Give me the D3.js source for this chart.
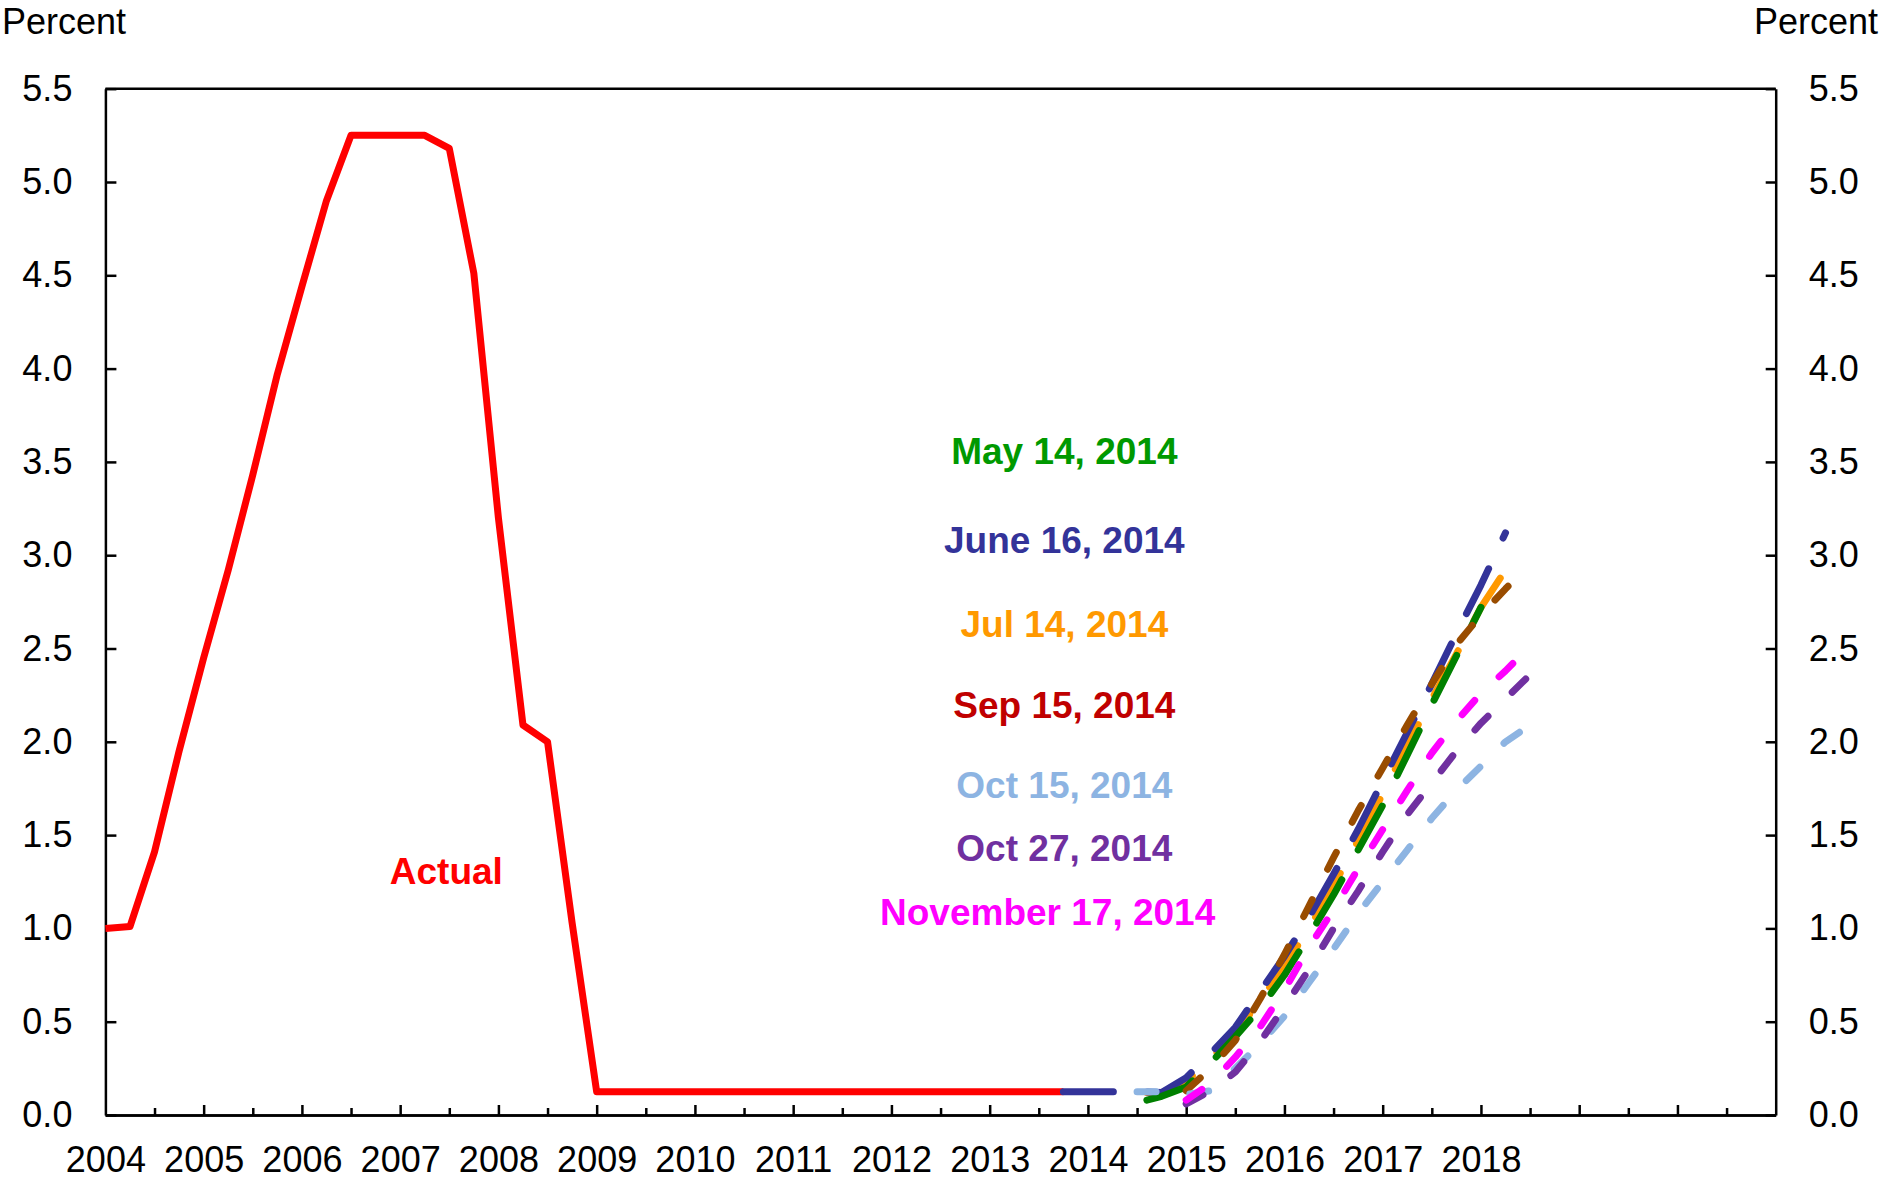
<!DOCTYPE html>
<html>
<head>
<meta charset="utf-8">
<script src="https://cdn.jsdelivr.net/npm/d3@7"></script>
<style>
  body { margin: 0; background: #fff; }
  svg { display: block; font-family: "Liberation Sans", Arial, sans-serif; }
</style>
</head>
<body>
<svg id="chart" width="1883" height="1181"></svg>
<script>
/* Fed funds target: actual path and market-implied paths (2014 vintages) */

// Axis ticks
const yearLabels = [2004, 2005, 2006, 2007, 2008, 2009, 2010, 2011, 2012, 2013, 2014, 2015, 2016, 2017, 2018];
const yTicks = [0, 0.5, 1, 1.5, 2, 2.5, 3, 3.5, 4, 4.5, 5, 5.5];

// Actual (quarterly)
const actualDates = [2004, 2004.25, 2004.5, 2004.75, 2005, 2005.25, 2005.5, 2005.75,
  2006, 2006.25, 2006.5, 2006.75, 2007, 2007.25, 2007.5, 2007.75,
  2008, 2008.25, 2008.5, 2008.75, 2009, 2009.25, 2009.5, 2009.75,
  2010, 2010.25, 2010.5, 2010.75, 2011, 2011.25, 2011.5, 2011.75,
  2012, 2012.25, 2012.5, 2012.75, 2013, 2013.25, 2013.5, 2013.75];
const actualValues = [1.0, 1.01, 1.41, 1.95, 2.45, 2.92, 3.43, 3.97,
  4.44, 4.9, 5.25, 5.25, 5.25, 5.25, 5.18, 4.51,
  3.2, 2.09, 2.0, 1.03, 0.125, 0.125, 0.125, 0.125,
  0.125, 0.125, 0.125, 0.125, 0.125, 0.125, 0.125, 0.125,
  0.125, 0.125, 0.125, 0.125, 0.125, 0.125, 0.125, 0.125];

// Projections
const juneDates = [2013.75, 2014, 2014.25, 2014.5, 2014.75, 2015, 2015.25, 2015.5, 2015.75,
  2016, 2016.25, 2016.5, 2016.75, 2017, 2017.25, 2017.5, 2017.75, 2018, 2018.25];
const juneValues = [0.125, 0.125, 0.125, 0.125, 0.12, 0.2, 0.33, 0.47, 0.66,
  0.85, 1.06, 1.29, 1.53, 1.79, 2.05, 2.31, 2.58, 2.84, 3.12];

const julDates = [2014.6, 2014.75, 2015, 2015.25, 2015.5, 2015.75, 2016, 2016.25, 2016.5, 2016.75,
  2017, 2017.25, 2017.5, 2017.75, 2018, 2018.25];
const julValues = [0.12, 0.12, 0.18, 0.3, 0.44, 0.61, 0.8, 1.0, 1.23, 1.47,
  1.72, 1.98, 2.23, 2.47, 2.72, 2.92];

const mayDates = [2014.6, 2014.75, 2015, 2015.25, 2015.5, 2015.75, 2016, 2016.25,
  2016.5, 2016.75, 2017, 2017.25, 2017.5, 2017.75, 2018];
const mayValues = [0.08, 0.1, 0.15, 0.28, 0.42, 0.57, 0.75, 0.96,
  1.18, 1.42, 1.66, 1.93, 2.2, 2.46, 2.72];

const sepDates = [2015, 2015.25, 2015.5, 2015.75, 2016, 2016.25, 2016.5, 2016.75,
  2017, 2017.25, 2017.5, 2017.75, 2018, 2018.25, 2018.42];
const sepValues = [0.13, 0.25, 0.4, 0.62, 0.86, 1.12, 1.38, 1.63,
  1.86, 2.09, 2.31, 2.52, 2.68, 2.82, 2.91];

const oct15Dates = [2014.5, 2014.75, 2015, 2015.25, 2015.5, 2015.75, 2016, 2016.25, 2016.5,
  2016.75, 2017, 2017.25, 2017.5, 2017.75, 2018, 2018.25, 2018.5];
const oct15Values = [0.125, 0.125, 0.11, 0.13, 0.25, 0.38, 0.53, 0.71, 0.89,
  1.08, 1.25, 1.42, 1.59, 1.74, 1.87, 2.0, 2.09];

const oct27Dates = [2015, 2015.25, 2015.5, 2015.75, 2016, 2016.25, 2016.5, 2016.75,
  2017, 2017.25, 2017.5, 2017.75, 2018, 2018.25, 2018.5];
const oct27Values = [0.06, 0.13, 0.23, 0.39, 0.58, 0.78, 1.0, 1.2,
  1.41, 1.61, 1.78, 1.95, 2.1, 2.23, 2.36];

const novDates = [2015, 2015.25, 2015.5, 2015.75, 2016, 2016.25, 2016.5, 2016.75,
  2017, 2017.25, 2017.5, 2017.75, 2018, 2018.25, 2018.42];
const novValues = [0.08, 0.17, 0.31, 0.47, 0.67, 0.9, 1.1, 1.32,
  1.53, 1.74, 1.94, 2.11, 2.26, 2.38, 2.47];

// Annotation text (label anchors given in data units)
const labelTexts = ["May 14, 2014", "June 16, 2014", "Jul 14, 2014", "Sep 15, 2014",
  "Oct 15, 2014", "Oct 27, 2014", "November 17, 2014", "Actual"];
const labelYears = [2013.76, 2013.76, 2013.76, 2013.76, 2013.76, 2013.76, 2013.59, 2007.47];
const labelLevels = [3.49, 3.01, 2.56, 2.13, 1.70, 1.36, 1.02, 1.24];
const labelColors = ["#009900", "#333399", "#FF9900", "#C00000", "#8DB4E2", "#7030A0", "#FF00FF", "#FF0000"];

// Layout
const W = 1883, H = 1181;
const plot = { left: 105.4, right: 1775.7, top: 88.7, bottom: 1115 };
const fontSize = 36;

const svg = d3.select("#chart");
svg.append("rect").attr("width", W).attr("height", H).attr("fill", "#fff");

const x = d3.scaleLinear().domain([2004, 2021]).range([plot.left, plot.right]);
const y = d3.scaleLinear().domain([0, 5.5]).range([plot.bottom, plot.top]);

// Axes
function styleAxis(g) {
  g.select(".domain").attr("stroke", "#000").attr("stroke-width", 2.5);
  g.selectAll(".tick line").attr("stroke", "#000").attr("stroke-width", 2.5);
  g.selectAll("text").attr("fill", "#000").style("font-size", fontSize + "px")
    .style("font-family", '"Liberation Sans", Arial, sans-serif');
}

const halfYears = d3.range(2004.5, 2021, 1);
const allYears = d3.range(2005, 2021, 1);

svg.append("g")
  .attr("transform", `translate(0,${plot.bottom})`)
  .call(d3.axisBottom(x).tickValues(halfYears).tickSizeInner(-7).tickSizeOuter(0).tickFormat(""))
  .call(styleAxis);

svg.append("g")
  .attr("transform", `translate(0,${plot.bottom})`)
  .call(d3.axisBottom(x).tickValues(allYears).tickSizeInner(-10).tickSizeOuter(0).tickFormat(""))
  .call(styleAxis);

// Year labels (including the one sitting on the left axis)
svg.append("g")
  .attr("transform", `translate(0,${plot.bottom})`)
  .call(d3.axisBottom(x).tickValues(yearLabels).tickSize(0).tickPadding(31).tickFormat(d3.format("d")))
  .call(styleAxis)
  .call((g) => g.select(".domain").remove());

svg.append("g")
  .attr("transform", `translate(${plot.left},0)`)
  .call(d3.axisLeft(y).tickValues(yTicks).tickSizeInner(-11).tickSizeOuter(0).tickPadding(33).tickFormat(d3.format(".1f")))
  .call(styleAxis);

svg.append("g")
  .attr("transform", `translate(${plot.right},0)`)
  .call(d3.axisRight(y).tickValues(yTicks).tickSizeInner(-10).tickSizeOuter(0).tickPadding(33).tickFormat(d3.format(".1f")))
  .call(styleAxis);

// Top border
svg.append("line")
  .attr("x1", plot.left).attr("x2", plot.right)
  .attr("y1", plot.top).attr("y2", plot.top)
  .attr("stroke", "#000").attr("stroke-width", 2.5);

// Unit labels
svg.append("text").attr("x", 2).attr("y", 34)
  .style("font-size", fontSize + "px").text("Percent");
svg.append("text").attr("x", 1878).attr("y", 34).attr("text-anchor", "end")
  .style("font-size", fontSize + "px").text("Percent");

// Lines
const line = d3.line().x((d) => x(d[0])).y((d) => y(d[1]));
const pairs = (dates, values) => dates.map((d, i) => [d, values[i]]);

svg.append("path")
  .datum(pairs(actualDates, actualValues))
  .attr("d", line)
  .attr("fill", "none")
  .attr("stroke", "#FF0000")
  .attr("stroke-width", 7)
  .attr("stroke-linejoin", "round");

const longDash = "50,34";
const shortDash = "19,34";

// drawing order: back to front
const projections = [
  { dates: julDates, values: julValues, color: "#FF9900", dash: longDash },
  { dates: juneDates, values: juneValues, color: "#333399", dash: longDash },
  { dates: mayDates, values: mayValues, color: "#008000", dash: longDash },
  { dates: sepDates, values: sepValues, color: "#994C00", dash: shortDash },
  { dates: oct15Dates, values: oct15Values, color: "#8DB4E2", dash: shortDash },
  { dates: oct27Dates, values: oct27Values, color: "#7030A0", dash: shortDash },
  { dates: novDates, values: novValues, color: "#FF00FF", dash: shortDash }
];

svg.append("g")
  .selectAll("path")
  .data(projections)
  .join("path")
  .attr("d", (s) => line(pairs(s.dates, s.values)))
  .attr("fill", "none")
  .attr("stroke", (s) => s.color)
  .attr("stroke-width", 7)
  .attr("stroke-dasharray", (s) => s.dash)
  .attr("stroke-linecap", "round")
  .attr("stroke-linejoin", "round");

// Annotations
svg.append("g")
  .selectAll("text")
  .data(labelTexts)
  .join("text")
  .attr("x", (d, i) => x(labelYears[i]))
  .attr("y", (d, i) => y(labelLevels[i]))
  .attr("text-anchor", "middle")
  .attr("fill", (d, i) => labelColors[i])
  .style("font-size", "37px")
  .style("font-weight", "bold")
  .text((d) => d);
</script>
</body>
</html>
